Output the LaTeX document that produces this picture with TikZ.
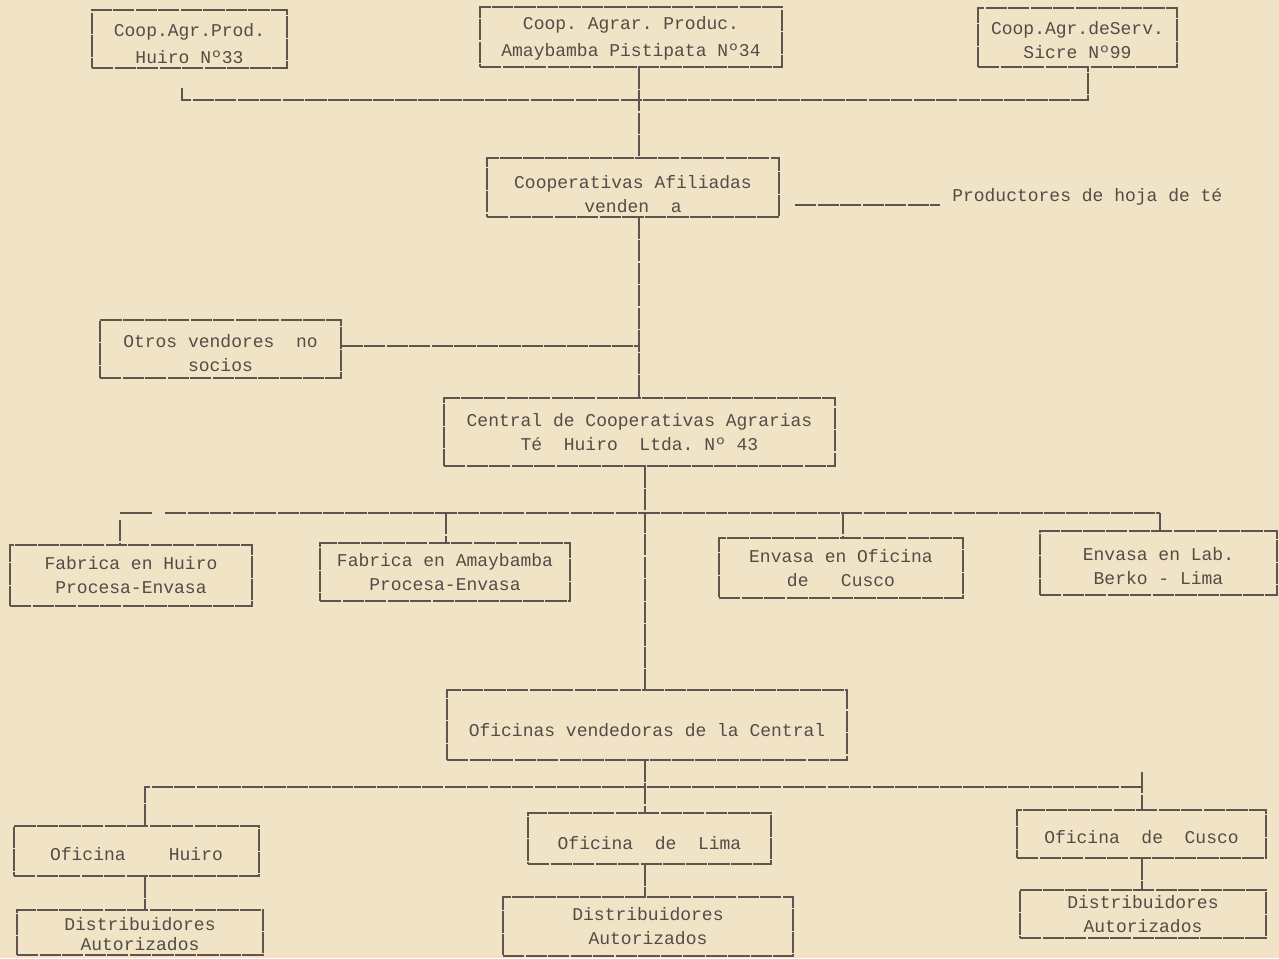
\documentclass[tikz,border=0pt]{standalone}
\usepackage{fontspec}
\setmonofont{Liberation Mono}
\definecolor{paper}{HTML}{F1E3C6}
\definecolor{ink}{HTML}{544C45}
\definecolor{rule}{HTML}{5E564E}
\tikzset{
  box/.style={draw=rule, line width=0.8pt, dash pattern=on 16pt off 0.9pt, inner sep=0pt,
    align=center, text=ink, font=\ttfamily\fontsize{13.5}{18}\selectfont},
  conn/.style={draw=rule, line width=0.8pt, dash pattern=on 16pt off 0.9pt},
  lbl/.style={text=ink, font=\ttfamily\fontsize{13.5}{18}\selectfont, inner sep=0pt}
}
\newcommand\bx[6]{\node[box,minimum width={(#4-#2)*0.75pt},minimum height={(#5-#3)*0.75pt}] (#1) at ({(#2+#4)/2},{(#3+#5)/2}) {#6};}
\begin{document}
\begin{tikzpicture}[x=0.75pt,y=-0.75pt]
\fill[paper] (0,0) rectangle (1279,958);
\useasboundingbox (0,0) rectangle (1279,958);

% top row
\bx{hu}{92}{10}{287}{68}{\rule{0pt}{17pt}Coop.Agr.Prod.\\[2pt]Huiro Nº33}
\bx{am}{480}{7}{782}{67}{\rule{0pt}{12pt}Coop. Agrar. Produc.\\[2pt]Amaybamba Pistipata Nº34}
\bx{si}{978}{8}{1177}{67}{\rule{0pt}{14pt}Coop.Agr.deServ.\\Sicre Nº99}

\coordinate (b1l) at (182,100);
\coordinate (b1r) at (1088,100);
\coordinate (b1c) at (639,100);
\coordinate (b1t) at (182,88);
\draw[conn] (b1t) -- (b1l) -- (b1r) -- (b1r |- si.south);

% cooperativas afiliadas
\bx{af}{487}{158}{779}{217}{\rule{0pt}{20pt}Cooperativas Afiliadas\\venden~~a}
\draw[conn] (b1c |- am.south) -- (b1c |- af.north);
\node[lbl, anchor=west] (pr) at (952,197) {Productores de hoja de té};
\coordinate (pl) at (795,205);
\coordinate (pr2) at (940,205);
\draw[conn] (pl) -- (pr2);

% otros
\bx{ot}{100}{320}{341}{378}{\rule{0pt}{16pt}Otros vendores~~no\\socios}
\bx{ce}{444}{398}{835}{466}{Central de Cooperativas Agrarias\\Té~~Huiro~~Ltda. Nº 43}
\draw[conn] (b1c |- af.south) -- (b1c |- ce.north);
\coordinate (oj) at (639,346);
\draw[conn] (ot.east |- oj) -- (oj);

% second tier
\bx{fh}{10}{545}{252}{606}{Fabrica en Huiro\\Procesa-Envasa}
\bx{fa}{320}{543}{570}{601}{Fabrica en Amaybamba\\Procesa-Envasa}
\bx{ec}{719}{538}{963}{598}{Envasa en Oficina\\de~~~Cusco}
\bx{eb}{1040}{531}{1277}{595}{\rule{0pt}{15pt}Envasa en Lab.\\Berko - Lima}
\bx{ov}{447}{690}{847}{760}{\rule{0pt}{17pt}Oficinas vendedoras de la Central}

\coordinate (b2a) at (120,513);
\coordinate (b2b) at (152,513);
\coordinate (b2c) at (165,513);
\coordinate (b2d) at (446,513);
\coordinate (b2e) at (843,513);
\coordinate (b2f) at (1160,513);
\coordinate (b2m) at (645,513);
\coordinate (b2t) at (120,520);
\draw[rule, line width=1.6pt] (b2a) -- (b2b);
\draw[conn] (b2c) -- (b2f);
\draw[conn] (b2t) -- (b2t |- fh.north);
\draw[conn] (b2d) -- (b2d |- fa.north);
\draw[conn] (b2e) -- (b2e |- ec.north);
\draw[conn] (b2f) -- (b2f |- eb.north);
\draw[conn] (b2m |- ce.south) -- (b2m |- ov.north);

% offices
\bx{oh}{14}{826}{259}{876}{\rule{0pt}{14pt}Oficina~~~~Huiro}
\bx{ol}{528}{813}{771}{864}{\rule{0pt}{17pt}Oficina~~de~~Lima}
\bx{oc}{1017}{810}{1266}{858}{\rule{0pt}{14pt}Oficina~~de~~Cusco}
\coordinate (b3l) at (145,787);
\coordinate (b3m) at (645,787);
\coordinate (b3r) at (1142,787);
\coordinate (b3t) at (1142,772);
\draw[conn] (b3l |- oh.north) -- (b3l) -- (b3r);
\draw[conn] (b3t) -- (b3t |- oc.north);
\draw[conn] (b3m |- ov.south) -- (b3m |- ol.north);

% distributors
\bx{dh}{17}{910}{263}{955}{\rule{0pt}{12pt}Distribuidores\\[-3pt]Autorizados}
\bx{dl}{503}{897}{793}{956}{Distribuidores\\Autorizados}
\bx{dc}{1020}{890}{1266}{938}{Distribuidores\\Autorizados}
\draw[conn] (b3l |- oh.south) -- (b3l |- dh.north);
\draw[conn] (b3m |- ol.south) -- (b3m |- dl.north);
\draw[conn] (b3r |- oc.south) -- (b3r |- dc.north);
\end{tikzpicture}
\end{document}
